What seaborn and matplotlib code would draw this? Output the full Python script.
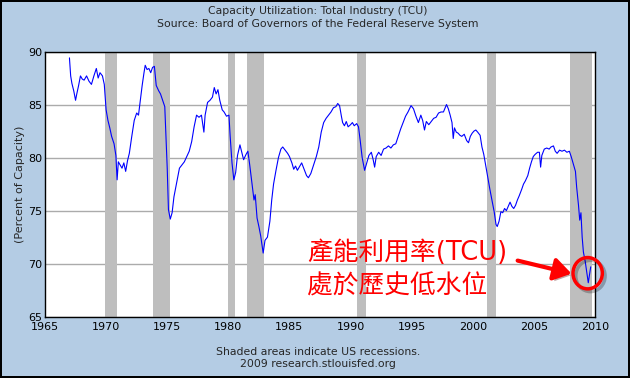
import matplotlib
matplotlib.use("Agg")
import matplotlib.pyplot as plt
import matplotlib.patheffects as pe
import matplotlib.transforms as mtransforms
from matplotlib.patches import Ellipse, FancyArrowPatch
import pandas as pd
import seaborn as sns

# Capacity utilization, total industry (TCU)
years = [
    1967.0, 1967.1, 1967.2, 1967.35, 1967.5, 1967.6, 1967.75, 1967.9, 1968.05, 1968.2,
    1968.4, 1968.6, 1968.8, 1969.0, 1969.2, 1969.35, 1969.5, 1969.7, 1969.85, 1970.0,
    1970.15, 1970.3, 1970.45, 1970.65, 1970.8, 1970.9, 1971.0, 1971.15, 1971.3, 1971.45,
    1971.6, 1971.75, 1971.9, 1972.1, 1972.3, 1972.5, 1972.65, 1972.8, 1972.95, 1973.1,
    1973.2, 1973.35, 1973.5, 1973.65, 1973.8, 1973.95, 1974.1, 1974.3, 1974.45, 1974.65,
    1974.8, 1974.9, 1975.0, 1975.1, 1975.25, 1975.4, 1975.55, 1975.75, 1976.0, 1976.2,
    1976.4, 1976.6, 1976.8, 1977.0, 1977.2, 1977.4, 1977.6, 1977.8, 1978.0, 1978.1,
    1978.3, 1978.5, 1978.7, 1978.85, 1979.0, 1979.15, 1979.3, 1979.5, 1979.65, 1979.85,
    1980.05, 1980.15, 1980.3, 1980.45, 1980.6, 1980.75, 1980.95, 1981.1, 1981.25, 1981.45,
    1981.6, 1981.75, 1981.9, 1982.1, 1982.2, 1982.35, 1982.5, 1982.65, 1982.85, 1983.0,
    1983.2, 1983.4, 1983.55, 1983.7, 1983.9, 1984.1, 1984.3, 1984.45, 1984.65, 1984.85,
    1985.0, 1985.2, 1985.35, 1985.5, 1985.65, 1985.8, 1986.0, 1986.2, 1986.4, 1986.55,
    1986.75, 1986.95, 1987.2, 1987.4, 1987.6, 1987.8, 1988.0, 1988.2, 1988.4, 1988.6,
    1988.8, 1988.95, 1989.1, 1989.25, 1989.35, 1989.5, 1989.65, 1989.8, 1990.0, 1990.15,
    1990.3, 1990.5, 1990.65, 1990.8, 1990.95, 1991.15, 1991.35, 1991.5, 1991.7, 1991.85,
    1991.97, 1992.1, 1992.3, 1992.5, 1992.7, 1992.9, 1993.1, 1993.3, 1993.5, 1993.7,
    1993.9, 1994.1, 1994.3, 1994.5, 1994.7, 1994.95, 1995.15, 1995.35, 1995.55, 1995.75,
    1995.9, 1996.05, 1996.2, 1996.4, 1996.6, 1996.8, 1997.0, 1997.2, 1997.4, 1997.6,
    1997.85, 1998.0, 1998.15, 1998.3, 1998.4, 1998.5, 1998.65, 1998.8, 1998.95, 1999.1,
    1999.3, 1999.5, 1999.65, 1999.8, 1999.95, 2000.1, 2000.25, 2000.4, 2000.6, 2000.75,
    2000.9, 2001.05, 2001.25, 2001.4, 2001.6, 2001.75, 2001.9, 2002.0, 2002.15, 2002.3,
    2002.45, 2002.6, 2002.75, 2002.9, 2003.05, 2003.2, 2003.35, 2003.5, 2003.65, 2003.8,
    2004.0, 2004.15, 2004.3, 2004.5, 2004.65, 2004.8, 2004.95, 2005.1, 2005.3, 2005.45,
    2005.55, 2005.65, 2005.85, 2006.05, 2006.25, 2006.4, 2006.6, 2006.75, 2006.9, 2007.1,
    2007.3, 2007.5, 2007.7, 2007.9, 2008.05, 2008.25, 2008.4, 2008.5, 2008.65, 2008.75,
    2008.85, 2008.95, 2009.05, 2009.2, 2009.45, 2009.65,
]
tcu = [
    89.4, 87.7, 87.0, 86.3, 85.4, 86.0, 86.8, 87.7, 87.4, 87.3,
    87.7, 87.2, 86.9, 87.7, 88.4, 87.5, 88.0, 87.7, 86.9, 84.5,
    83.5, 82.8, 82.0, 81.3, 80.2, 77.9, 79.6, 79.3, 79.0, 79.5,
    78.7, 79.7, 80.4, 82.0, 83.5, 84.2, 84.0, 85.4, 86.8, 88.0,
    88.7, 88.3, 88.4, 88.0, 88.5, 88.6, 86.8, 86.3, 86.0, 85.3,
    84.8, 82.0, 79.0, 75.1, 74.2, 74.8, 76.3, 77.5, 79.0, 79.3,
    79.6, 80.1, 80.6, 81.5, 82.9, 84.0, 83.8, 84.0, 82.4, 84.0,
    85.2, 85.4, 85.7, 86.6, 86.0, 86.4, 85.4, 84.5, 84.3, 83.9,
    84.0, 82.0, 79.5, 77.9, 78.6, 80.2, 81.2, 80.5, 79.8, 80.3,
    80.6, 79.3, 77.9, 76.0, 76.5, 74.3, 73.5, 72.6, 71.0, 72.2,
    72.5, 74.0, 76.0, 77.5, 78.8, 80.0, 80.8, 81.0, 80.7, 80.4,
    80.1, 79.5, 78.9, 79.2, 78.8, 79.1, 79.5, 78.9, 78.3, 78.1,
    78.5, 79.2, 80.1, 81.0, 82.4, 83.3, 83.7, 84.0, 84.3, 84.7,
    84.8, 85.1, 84.9, 83.9, 83.3, 83.0, 83.4, 82.9, 83.1, 83.3,
    83.0, 83.2, 82.9, 81.5, 80.0, 78.8, 79.6, 80.2, 80.5, 79.8,
    79.1, 80.1, 80.5, 80.2, 80.8, 80.9, 81.1, 80.9, 81.2, 81.3,
    82.0, 82.7, 83.3, 83.9, 84.3, 84.9, 84.6, 83.9, 83.3, 84.0,
    83.5, 82.6, 83.4, 83.1, 83.4, 83.7, 83.8, 84.2, 84.3, 84.3,
    85.0, 84.6, 84.0, 83.3, 81.8, 82.8, 82.4, 82.3, 82.1, 82.0,
    82.2, 81.6, 81.4, 82.0, 82.3, 82.5, 82.6, 82.4, 82.1, 81.0,
    80.3, 79.3, 78.0, 77.0, 75.8, 74.9, 73.7, 73.5, 74.0, 74.9,
    74.8, 75.2, 75.0, 75.4, 75.8, 75.4, 75.2, 75.5, 76.0, 76.4,
    77.0, 77.5, 77.8, 78.3, 79.0, 79.6, 80.1, 80.3, 80.5, 80.5,
    79.1, 80.2, 80.8, 80.9, 80.8, 81.0, 81.1, 80.6, 80.4, 80.7,
    80.6, 80.7, 80.5, 80.6, 80.1, 79.3, 78.7, 77.2, 75.5, 74.1,
    74.8, 72.5, 71.1, 70.2, 68.2, 69.7,
]

# NBER recessions (start, end) in fractional years
recession_start = [1969.92, 1973.83, 1980.0, 1981.5, 1990.5, 2001.17, 2007.92]
recession_end = [1970.92, 1975.25, 1980.58, 1982.92, 1991.25, 2001.92, 2009.75]

year_ticks = [1965, 1970, 1975, 1980, 1985, 1990, 1995, 2000, 2005, 2010]
value_ticks = [65, 70, 75, 80, 85, 90]

BG = "#B4CCE4"
RED = "#FF0000"

sns.set_theme(style="white")
plt.rcParams["font.family"] = ["DejaVu Sans", "Noto Sans CJK TC"]

df = pd.DataFrame({"year": years, "tcu": tcu})

fig = plt.figure(figsize=(6.3, 3.78), dpi=100)
fig.patch.set_facecolor(BG)
fig.patch.set_edgecolor("black")
fig.patch.set_linewidth(1.5)

ax = fig.add_axes([45 / 630, 61.3 / 378, 550 / 630, 265.2 / 378])
ax.set_facecolor("white")

for start, end in zip(recession_start, recession_end):
    ax.axvspan(start, end, color="#BEBEBE", lw=0, zorder=1)

sns.lineplot(data=df, x="year", y="tcu", color="#0000FF", linewidth=0.8, ax=ax, zorder=3)

ax.set_xlim(1965, 2010)
ax.set_ylim(65, 90)
ax.set_xticks(year_ticks)
ax.set_yticks(value_ticks)
ax.yaxis.grid(True, color="#ABABAB", linewidth=1.0, zorder=0)
ax.set_axisbelow(True)
ax.tick_params(axis="both", direction="in", length=4, width=1, colors="black",
               labelsize=8, pad=2)
ax.tick_params(axis="x", pad=4)
for spine in ax.spines.values():
    spine.set_color("black")
    spine.set_linewidth(1.0)

ax.set_xlabel("")
ax.set_ylabel("(Percent of Capacity)", fontsize=8, labelpad=2)

fig.text(0.505, 0.971, "Capacity Utilization: Total Industry (TCU)",
         ha="center", va="center", fontsize=7.8)
fig.text(0.505, 0.936, "Source: Board of Governors of the Federal Reserve System",
         ha="center", va="center", fontsize=7.8)
fig.text(0.505, 0.070, "Shaded areas indicate US recessions.",
         ha="center", va="center", fontsize=7.8)
fig.text(0.505, 0.037, "2009 research.stlouisfed.org",
         ha="center", va="center", fontsize=7.8)

# annotation in red
ax.text(0.476, 0.240, "產能利用率(TCU)", transform=ax.transAxes, color=RED,
        fontsize=18.5, ha="left", va="center", zorder=5)
ax.text(0.476, 0.112, "處於歷史低水位", transform=ax.transAxes, color=RED,
        fontsize=18.5, ha="left", va="center", zorder=5)

arrow = FancyArrowPatch((2003.45, 70.35), (2008.3, 69.0),
                        arrowstyle="-|>,head_length=7,head_width=4.5",
                        color=RED, lw=3, zorder=6, mutation_scale=1.5)
arrow.set_path_effects([pe.SimplePatchShadow(offset=(2, -2), alpha=0.35), pe.Normal()])
ax.add_patch(arrow)

# circle around the 2009 low, with a soft offset shadow ring
shadow_tr = mtransforms.offset_copy(ax.transData, fig=fig, x=2, y=-2, units="points")
ax.add_patch(Ellipse((2009.4, 69.1), width=2.4, height=2.95, fill=False,
                     edgecolor="black", alpha=0.25, lw=2.5, zorder=5,
                     transform=shadow_tr, clip_on=False))
ax.add_patch(Ellipse((2009.4, 69.1), width=2.4, height=2.95, fill=False,
                     edgecolor=RED, lw=2.5, zorder=6, clip_on=False))

fig.savefig("out.png", dpi=100, facecolor=fig.get_facecolor(), edgecolor=fig.get_edgecolor())
